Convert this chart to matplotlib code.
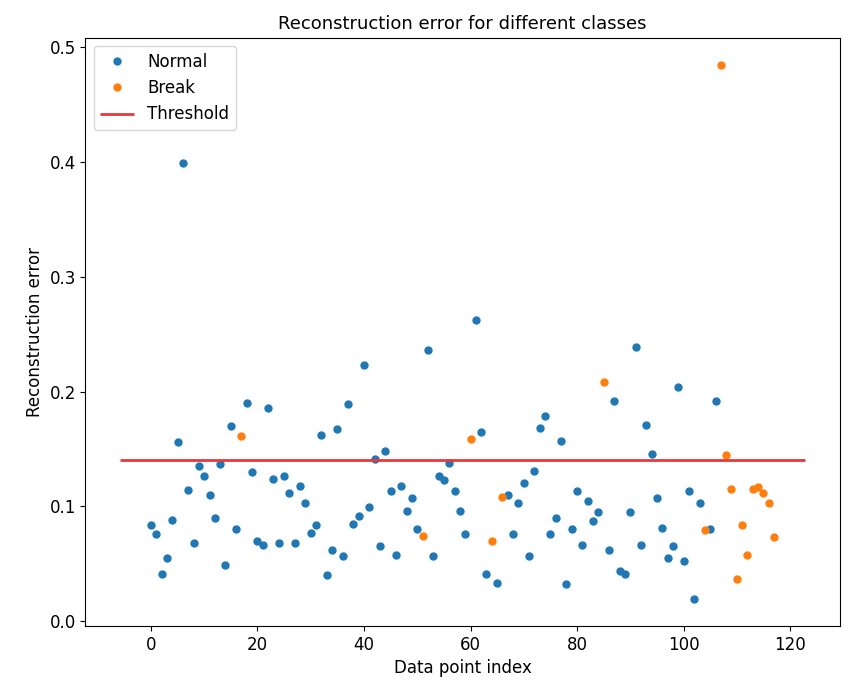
import numpy as np
import matplotlib
matplotlib.use("Agg")
import matplotlib.pyplot as plt

# reconstruction error per data point (index 0..117)
reconstruction_error = [
    0.084, 0.076, 0.041, 0.055, 0.088, 0.156, 0.399, 0.114, 0.068, 0.135,
    0.126, 0.110, 0.090, 0.137, 0.049, 0.170, 0.080, 0.161, 0.190, 0.130,
    0.070, 0.066, 0.186, 0.124, 0.068, 0.126, 0.112, 0.068, 0.118, 0.103,
    0.077, 0.084, 0.162, 0.040, 0.062, 0.167, 0.057, 0.189, 0.085, 0.092,
    0.223, 0.099, 0.141, 0.065, 0.148, 0.113, 0.058, 0.118, 0.096, 0.107,
    0.080, 0.074, 0.236, 0.057, 0.126, 0.123, 0.138, 0.113, 0.096, 0.076,
    0.159, 0.262, 0.165, 0.041, 0.070, 0.033, 0.108, 0.110, 0.076, 0.103,
    0.120, 0.057, 0.131, 0.168, 0.179, 0.076, 0.090, 0.157, 0.032, 0.080,
    0.113, 0.066, 0.105, 0.087, 0.095, 0.208, 0.062, 0.192, 0.044, 0.041,
    0.095, 0.239, 0.066, 0.171, 0.146, 0.107, 0.081, 0.055, 0.065, 0.204,
    0.052, 0.113, 0.019, 0.103, 0.079, 0.080, 0.192, 0.485, 0.145, 0.115,
    0.037, 0.084, 0.058, 0.115, 0.117, 0.112, 0.103, 0.073,
]
# indices labelled as "Break" (true_class == 1)
break_idx = [17, 51, 60, 64, 66, 85, 104, 107, 108, 109, 110, 111, 112,
             113, 114, 115, 116, 117]
threshold = 0.14

error = np.array(reconstruction_error)
idx = np.arange(len(error))
true_class = np.isin(idx, break_idx).astype(int)

fig = plt.figure(figsize=(8.44, 6.8), dpi=100)
ax = fig.add_axes([0.1013, 0.0794, 0.8934, 0.865])

for name in [0, 1]:
    mask = true_class == name
    ax.plot(idx[mask], error[mask], marker='o', ms=5, linestyle='',
            label="Break" if name == 1 else "Normal")

ax.hlines(threshold, ax.get_xlim()[0], ax.get_xlim()[1], colors="#e8383a",
          lw=2, zorder=100, label='Threshold')

ax.legend(loc='upper left', fontsize=12)
ax.set_title("Reconstruction error for different classes", fontsize=13)
ax.set_ylabel("Reconstruction error", fontsize=12)
ax.set_xlabel("Data point index", fontsize=12)
ax.tick_params(labelsize=12)

plt.savefig("out.png", dpi=100)
